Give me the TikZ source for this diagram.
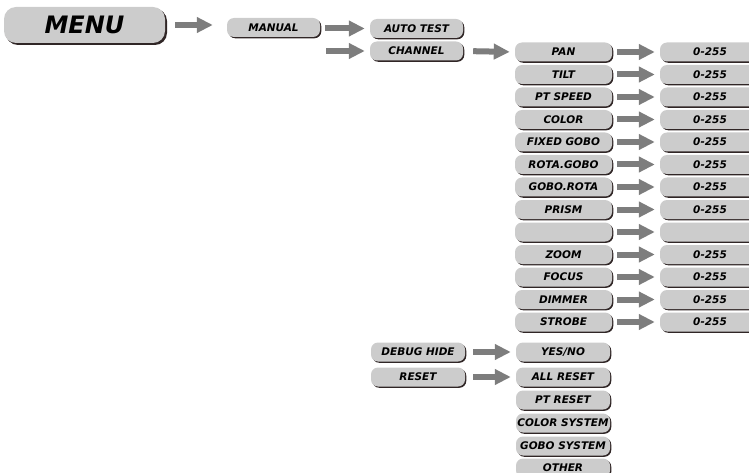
\documentclass[tikz,border=0pt]{standalone}
\usepackage{fontspec}
\setsansfont{DejaVu Sans}
\usetikzlibrary{positioning, arrows.meta, shadows}
\definecolor{box_grey}{RGB}{204,204,204}
\definecolor{shadow_dark}{RGB}{48,38,38}
\definecolor{arrow_grey}{RGB}{125,125,125}
\tikzset{every picture/.style={/utils/exec={\sffamily\bfseries\itshape}}}
\tikzset{
  menubox/.style={fill=box_grey, rounded corners=7pt, minimum height=19pt, minimum width=94pt, inner sep=0pt,
    font=\fontsize{10.5}{11}\selectfont,
    drop shadow={shadow xshift=1.3pt, shadow yshift=-1.3pt, fill=shadow_dark, opacity=1}},
  flowarrow/.style={arrow_grey, line width=6pt, -{Triangle[length=16pt, width=15pt]}, shorten <=5pt, shorten >=5pt}
}

\begin{document}
\begin{tikzpicture}[x=1pt, y=-1pt]
    \useasboundingbox (0,0) rectangle (749,473);
    \node[menubox, minimum width=161pt, minimum height=36pt, rounded corners=12pt, font=\fontsize{24}{26}\selectfont,
      drop shadow={shadow xshift=2pt, shadow yshift=-2pt, fill=shadow_dark, opacity=1}] (menu) at (84.5,25) {MENU};
    \node[menubox, minimum width=93pt] (manual) at (273.5,27.5) {MANUAL};
    \node[menubox, minimum width=93pt] (autotest) at (416.5,28.5) {AUTO TEST};
    \node[menubox, minimum width=93pt] (channel) at (416.5,51) {CHANNEL};
    \coordinate (chanstart) at (321,51);
    \draw[flowarrow, shorten <=10pt, shorten >=14pt] (menu.east) -- (manual.west |- menu.east);
    \draw[flowarrow] (manual.east |- autotest.west) -- (autotest.west);
    \draw[flowarrow] (chanstart) -- (channel.west);

    \foreach \name [count=\i from 0] in {PAN, TILT, PT SPEED, COLOR, FIXED GOBO, ROTA.GOBO, GOBO.ROTA, PRISM, {}, ZOOM, FOCUS, DIMMER, STROBE} {
        \node[menubox, minimum width=97pt] (ch\i) at (563.5, {52+22.5*\i}) {\name};
        \ifnum\i=8
            \node[menubox, minimum width=100pt] (val\i) at (710, {52+22.5*\i}) {};
        \else
            \node[menubox, minimum width=100pt] (val\i) at (710, {52+22.5*\i}) {0-255};
        \fi
        \draw[flowarrow] (ch\i.east) -- (val\i.west);
    }
    \draw[flowarrow, shorten <=10pt] (channel.east) -- (ch0.west);

    \node[menubox, minimum width=94pt] (debughide) at (418,352) {DEBUG HIDE};
    \node[menubox, minimum width=94pt] (reset) at (418,377) {RESET};
    \foreach \name/\ypos [count=\i] in {YES\slash NO/352, ALL RESET/377, PT RESET/400, COLOR SYSTEM/423, GOBO SYSTEM/446, OTHER/468} {
        \node[menubox, minimum width=94pt] (rs\i) at (563, \ypos) {\name};
    }
    \draw[flowarrow, shorten <=8pt] (debughide.east) -- (rs1.west);
    \draw[flowarrow, shorten <=8pt] (reset.east) -- (rs2.west);
\end{tikzpicture}
\end{document}
